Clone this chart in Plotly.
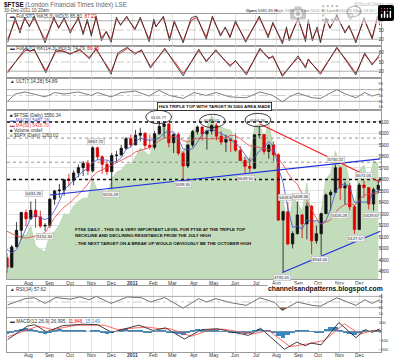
import plotly.graph_objects as go
import pandas as pd

W, H = 400, 359
X0, X1 = 7, 381

# ---------------- data ----------------
week_dates = pd.date_range("2010-06-30", "2011-12-28", freq="W-WED")

opens = [4920,4838,5014,5158,5313,5258,5332,5275,5195,5201,5428,5501,5508,5598,5592,5657,5703,5741,5675,5875,5797,5732,5668,5808,5812,5871,5955,
         5900,5985,6002,5896,5881,5997,6062,6083,5919,5990,5829,5718,5900,6016,6056,5996,6022,6069,5976,5925,5948,5938,5855,5765,5714,5697,
         5989,5990,5844,5900,5815,5247,5320,5040,5130,5292,5214,5368,5067,5128,5303,5466,5488,5702,5527,5545,5362,5165,5552,5529,5387,5512]
highs = [4960,5030,5230,5320,5340,5410,5430,5330,5220,5440,5510,5560,5600,5650,5680,5730,5760,5770,5890,5885,5810,5760,5830,5850,5900,5970,5990,
         6030,6050,6010,5990,6020,6105,6100,6090,6000,6010,5850,5910,6030,6070,6060,6030,6080,6091,6020,5990,5960,6000,5890,5800,5790,5990,
         6055,5990,5910,5930,5830,5330,5400,5150,5410,5300,5400,5380,5200,5310,5480,5510,5730,5710,5580,5570,5380,5570,5590,5530,5530,5600]
lows = [4790,4830,5010,5080,5190,5250,5180,5180,5151,5180,5380,5440,5460,5540,5550,5620,5630,5640,5660,5770,5650,5640,5515,5760,5820,5860,5880,
        5900,5930,5860,5860,5860,5990,5970,5880,5830,5810,5599,5700,5880,5990,5940,5860,5990,5940,5900,5840,5840,5840,5760,5649,5660,5690,
        5960,5820,5780,5760,5240,4791,5030,5000,5120,5090,5080,4950,5040,4944,5300,5330,5480,5420,5380,5330,5127,5160,5440,5340,5330,5480]
closes = [4838,5014,5158,5313,5258,5332,5275,5195,5201,5428,5501,5508,5598,5592,5657,5703,5741,5675,5875,5797,5732,5668,5808,5812,5871,5955,5900,
          5985,6002,5896,5881,5997,6062,6083,5919,5990,5829,5718,5900,6016,6056,5996,6022,6069,5976,5925,5948,5938,5855,5765,5714,5697,5989,
          5990,5844,5900,5815,5247,5320,5040,5130,5292,5214,5368,5067,5128,5303,5466,5488,5702,5527,5545,5362,5165,5552,5529,5387,5512,5550]
ma20 = [4990,4963,4990,5081,5186,5265,5295,5265,5251,5275,5331,5410,5509,5550,5589,5637,5673,5694,5748,5772,5770,5768,5751,5755,5790,5861,5884,
        5928,5960,5946,5941,5944,5959,6006,6015,6013,5955,5864,5859,5866,5922,5992,6022,6036,6016,5998,5979,5947,5916,5876,5818,5758,5791,
        5847,5880,5931,5887,5701,5574,5355,5184,5195,5169,5251,5235,5244,5216,5241,5346,5490,5546,5565,5534,5400,5406,5402,5408,5495,5494]
ma50 = [5150,5130,5110,5100,5090,5100,5110,5120,5140,5201,5268,5317,5361,5389,5429,5466,5512,5560,5628,5665,5688,5704,5725,5747,5768,5793,5809,
        5840,5853,5863,5878,5911,5936,5963,5968,5972,5964,5938,5928,5940,5957,5957,5953,5952,5957,5951,5963,5985,5980,5955,5921,5891,5888,
        5880,5867,5864,5851,5782,5728,5656,5597,5557,5479,5417,5339,5262,5211,5233,5250,5316,5356,5381,5396,5375,5424,5464,5472,5477,5483]
spx = [1022,1078,1065,1102,1102,1122,1079,1071,1065,1105,1110,1125,1149,1146,1166,1176,1183,1183,1225,1199,1199,1189,1225,1240,1244,1257,1258,
       1272,1293,1283,1276,1310,1329,1343,1320,1321,1304,1279,1313,1332,1328,1320,1337,1364,1340,1338,1333,1331,1300,1271,1271,1268,1339,
       1344,1316,1345,1292,1199,1178,1123,1177,1174,1154,1216,1136,1131,1155,1224,1238,1285,1253,1263,1216,1159,1244,1255,1219,1265,1258]
macd_hist = [-25,-10,10,30,35,25,10,-20,-30,-10,15,25,20,10,10,15,10,0,10,5,-15,-25,-20,0,15,25,20,
             20,15,-10,-20,-5,10,10,-10,-20,-30,-40,-20,10,30,15,5,10,5,-5,-5,-10,-10,-20,-25,-15,15,30,20,10,-10,
             -50,-70,-45,-10,15,5,10,-5,-20,-15,30,45,50,20,-10,-30,-45,-20,20,-5,5,15]

sto1_dates = ["2010-07-01","2010-07-12","2010-07-19","2010-07-26","2010-08-02","2010-08-09","2010-08-25","2010-09-07","2010-09-14","2010-09-22",
              "2010-10-01","2010-10-13","2010-10-20","2010-10-26","2010-11-01","2010-11-08","2010-11-16","2010-11-23","2010-11-30","2010-12-08",
              "2010-12-14","2010-12-23","2011-01-04","2011-01-12","2011-01-25","2011-02-01","2011-02-04","2011-02-15","2011-02-24","2011-03-03",
              "2011-03-16","2011-03-28","2011-04-05","2011-04-19","2011-04-28","2011-05-10","2011-05-17","2011-05-24","2011-06-01","2011-06-16",
              "2011-07-06","2011-07-19","2011-07-26","2011-08-09","2011-08-15","2011-08-19","2011-09-01","2011-09-12","2011-09-16","2011-09-22",
              "2011-09-29","2011-10-04","2011-10-12","2011-10-18","2011-10-28","2011-11-09","2011-11-15","2011-11-25","2011-12-07","2011-12-19",
              "2011-12-27","2011-12-30"]
sto1_k = [10,90,40,92,60,95,8,92,55,90,40,92,35,85,30,95,15,45,10,92,65,95,50,92,12,85,60,95,15,80,
          8,90,95,20,95,30,60,25,80,10,95,25,75,5,60,15,90,12,85,15,60,8,90,55,98,40,65,8,90,20,97,66]
sto1_d = [20,80,50,85,65,88,18,85,60,84,48,85,42,78,38,88,24,45,18,85,68,90,55,86,20,78,62,90,24,74,
          15,82,90,28,90,36,56,30,74,16,90,32,70,12,52,22,84,20,78,22,52,15,82,58,94,45,60,15,84,26,88,87]

sto2_dates = ["2010-07-01","2010-07-27","2010-08-03","2010-08-09","2010-08-26","2010-09-10","2010-09-20","2010-10-01","2010-10-15","2010-10-29",
              "2010-11-08","2010-11-30","2010-12-10","2010-12-24","2011-01-04","2011-01-14","2011-01-27","2011-02-17","2011-03-02","2011-03-16",
              "2011-04-08","2011-04-19","2011-05-03","2011-05-24","2011-06-01","2011-06-17","2011-07-07","2011-07-20","2011-07-26","2011-08-09",
              "2011-09-01","2011-09-12","2011-09-16","2011-10-04","2011-10-28","2011-11-10","2011-11-25","2011-12-08","2011-12-19","2011-12-30"]
sto2_k = [15,95,85,92,15,90,85,75,92,60,95,10,80,98,75,90,30,95,50,5,92,50,90,35,55,8,95,60,70,3,70,30,60,10,98,55,8,80,40,75]
sto2_d = [20,88,86,88,22,84,86,78,88,65,90,18,74,94,80,86,36,90,55,12,86,55,85,40,52,14,90,64,66,8,64,36,56,16,94,60,14,74,45,66]

ult_dates = ["2010-07-01","2010-07-12","2010-07-27","2010-08-10","2010-08-25","2010-09-08","2010-09-22","2010-10-13","2010-11-01","2010-11-10",
             "2010-11-30","2010-12-15","2011-01-05","2011-01-25","2011-02-08","2011-02-24","2011-03-16","2011-04-01","2011-04-19","2011-05-03",
             "2011-05-24","2011-06-17","2011-07-07","2011-07-26","2011-08-09","2011-08-19","2011-09-01","2011-09-22","2011-10-04","2011-10-28",
             "2011-11-10","2011-11-25","2011-12-08","2011-12-19","2011-12-30"]
ult_vals = [30,55,62,55,45,60,55,62,50,60,45,60,65,48,68,50,40,60,50,60,45,42,62,50,28,45,58,42,40,70,55,42,60,48,55]

rsi_dates = ["2010-07-01","2010-07-27","2010-08-09","2010-08-25","2010-09-10","2010-10-01","2010-10-15","2010-10-29","2010-11-08","2010-11-30",
             "2010-12-24","2011-01-14","2011-01-27","2011-02-17","2011-03-16","2011-04-08","2011-04-19","2011-05-03","2011-05-24","2011-06-17",
             "2011-07-07","2011-07-29","2011-08-09","2011-08-31","2011-09-22","2011-10-04","2011-10-28","2011-11-25","2011-12-08","2011-12-19",
             "2011-12-30"]
rsi_vals = [40,62,65,45,66,60,68,58,70,45,68,65,50,66,28,62,50,62,48,38,65,48,20,50,38,35,65,38,58,45,58]
rsi_low_dates = ["2011-08-04", "2011-08-09", "2011-08-15"]
rsi_low_vals = [30, 20, 30]

macd_dates = ["2010-07-01","2010-07-30","2010-08-10","2010-08-27","2010-09-20","2010-10-20","2010-11-10","2010-12-01","2011-01-10","2011-01-31",
              "2011-02-18","2011-03-18","2011-04-12","2011-05-05","2011-06-20","2011-07-08","2011-08-12","2011-08-30","2011-09-12","2011-09-20",
              "2011-10-05","2011-10-31","2011-11-25","2011-12-09","2011-12-19","2011-12-30"]
macd_vals = [-90,60,75,-5,65,80,75,-10,70,10,40,-85,20,30,-45,35,-200,-120,-160,-130,-150,100,-70,20,-10,27]
signal_dates = ["2010-07-01","2010-08-15","2010-09-05","2010-10-10","2010-11-20","2010-12-10","2011-01-20","2011-02-10","2011-02-25","2011-03-28",
                "2011-04-25","2011-05-15","2011-06-25","2011-07-20","2011-08-20","2011-09-15","2011-10-10","2011-11-08","2011-12-01","2011-12-20",
                "2011-12-30"]
signal_vals = [-60,60,20,70,70,20,50,30,30,-55,20,25,-30,10,-170,-140,-100,85,-30,10,12]

# trend lines / levels (date, price)
level_heavy = [6100, 5600]
level_light = [5960, 5750]
neckline = (["2010-09-01", "2011-12-31"], [5465, 5779])
red_resist = (["2011-07-07", "2011-12-31"], [6083, 5576])
low_support = (["2011-08-09", "2011-12-31"], [4791, 5150])
peak_circles = [("2011-02-08", 6143, "6105.77"), ("2011-04-28", 6109, "6089.47"), ("2011-07-04", 6117, "6054.26")]
price_labels = [("2010-08-09", 5431, "5431.26", 1), ("2010-08-25", 5151, "5151.34", -1), ("2010-11-08", 5890, "5867.72", 1),
                ("2010-11-30", 5515, "5515.29", -1), ("2011-03-16", 5599, "5599.30", -1), ("2011-06-16", 5649, "5649.50", -1),
                ("2011-08-09", 4791, "4791.01", -1), ("2011-08-16", 5400, "5409.67", 1), ("2011-09-05", 5410, "5408.36", 1),
                ("2011-10-04", 4944, "4944.44", -1), ("2011-10-27", 5730, "5730.22", 1), ("2011-11-01", 5330, "5326.28", -1),
                ("2011-11-25", 5127, "5127.57", -1), ("2011-12-07", 5590, "5571.05", 1), ("2011-12-19", 5330, "5329.67", -1)]

month_grid = pd.date_range("2010-07-01", "2011-12-01", freq="MS")
month_text = ["", "Aug", "Sep", "Oct", "Nov", "Dec", "<b>2011</b>", "Feb", "Mar", "Apr", "May", "Jun", "Jul", "Aug", "Sep", "Oct", "Nov", "Dec"]

# ---------------- helpers ----------------
def P(pix):
    return 1 - pix / H

XDOM = [X0 / W, X1 / W]
XR = ["2010-06-30", "2012-01-01"]
FONT = "Liberation Sans, Arial, sans-serif"
GRID = "#e2e2e2"
BORDER = "#9a9a9a"

panels = {  # name: (top px, bottom px)
    "sto1": (14, 46), "sto2": (46, 78), "ult": (78, 110), "main": (110, 279), "rsi": (286, 317), "macd": (318, 352)}

fig = go.Figure()

# STO 1
fig.add_trace(go.Scatter(x=sto1_dates, y=sto1_d, mode="lines", line=dict(color="#e01010", width=0.9), xaxis="x", yaxis="y"))
fig.add_trace(go.Scatter(x=sto1_dates, y=sto1_k, mode="lines", line=dict(color="#222", width=0.8), xaxis="x", yaxis="y"))
# STO 2
fig.add_trace(go.Scatter(x=sto2_dates, y=sto2_d, mode="lines", line=dict(color="#e01010", width=0.9), xaxis="x2", yaxis="y2"))
fig.add_trace(go.Scatter(x=sto2_dates, y=sto2_k, mode="lines", line=dict(color="#222", width=0.8), xaxis="x2", yaxis="y2"))
# ULT
fig.add_trace(go.Scatter(x=ult_dates, y=ult_vals, mode="lines", line=dict(color="#444", width=0.7), xaxis="x3", yaxis="y3"))
# Main: SPX area (base axis y4), price (overlay y5)
fig.add_trace(go.Scatter(x=week_dates, y=spx, mode="lines", line=dict(color="#a9cc9f", width=0.6),
                         fill="tozeroy", fillcolor="#c3dcbb", xaxis="x4", yaxis="y4"))
fig.add_trace(go.Scatter(x=week_dates, y=ma50, mode="lines", line=dict(color="#e84040", width=0.8), xaxis="x4", yaxis="y5"))
fig.add_trace(go.Scatter(x=week_dates, y=ma20, mode="lines", line=dict(color="#4050c8", width=0.8), xaxis="x4", yaxis="y5"))
fig.add_trace(go.Candlestick(x=week_dates, open=opens, high=highs, low=lows, close=closes,
                             increasing=dict(line=dict(color="#111", width=0.8), fillcolor="#111"),
                             decreasing=dict(line=dict(color="#e00000", width=0.8), fillcolor="#e00000"),
                             whiskerwidth=0, xaxis="x4", yaxis="y5"))
# RSI
fig.add_trace(go.Scatter(x=rsi_low_dates, y=rsi_low_vals, mode="lines", fill="toself", fillcolor="#9b5a3c",
                         line=dict(color="#9b5a3c", width=0.5), xaxis="x5", yaxis="y6"))
fig.add_trace(go.Scatter(x=rsi_dates, y=rsi_vals, mode="lines", line=dict(color="#333", width=0.7), xaxis="x5", yaxis="y6"))
# MACD
fig.add_trace(go.Bar(x=week_dates, y=macd_hist, marker=dict(color="#3a86c0", line=dict(width=0)), xaxis="x6", yaxis="y7"))
fig.add_trace(go.Scatter(x=signal_dates, y=signal_vals, mode="lines", line=dict(color="#ff4040", width=0.8), xaxis="x6", yaxis="y7"))
fig.add_trace(go.Scatter(x=macd_dates, y=macd_vals, mode="lines", line=dict(color="#111", width=0.8), xaxis="x6", yaxis="y7"))

# ---------------- axes ----------------
def xax(anchor):
    d = dict(domain=XDOM, anchor=anchor, type="date", range=XR, tickvals=list(month_grid), ticktext=month_text,
             showticklabels=False, showgrid=True, gridcolor=GRID, gridwidth=0.6, ticks="", showline=True, mirror=True,
             linecolor=BORDER, linewidth=0.7, rangeslider=dict(visible=False), zeroline=False, fixedrange=True)
    if anchor != "y":
        d["matches"] = "x"
    return d

def yax(name, rng, tickvals, grid=True, anchor="x", size=4.5):
    top, bot = panels[name]
    return dict(domain=[P(bot), P(top)], anchor=anchor, range=rng, side="right", tickvals=tickvals,
                showgrid=grid, gridcolor=GRID, gridwidth=0.6, ticks="", showline=True, mirror=True,
                linecolor=BORDER, linewidth=0.7, zeroline=False, tickfont=dict(size=size, color="#333", family=FONT),
                ticklabelstandoff=-4, fixedrange=True)

layout = dict(width=W, height=H, margin=dict(l=0, r=0, t=0, b=0), paper_bgcolor="white", plot_bgcolor="white",
              showlegend=False, bargap=0, font=dict(family=FONT))
layout["xaxis"] = xax("y")
layout["xaxis2"] = xax("y2")
layout["xaxis3"] = xax("y3")
layout["xaxis4"] = xax("y4")
layout["xaxis5"] = xax("y6")
layout["xaxis6"] = xax("y7")
layout["yaxis"] = yax("sto1", [-2, 102], [20, 50, 80], grid=False)
layout["yaxis2"] = yax("sto2", [-2, 102], [20, 50, 80], grid=False, anchor="x2")
layout["yaxis3"] = yax("ult", [0, 110], [10, 30, 50, 70, 90], grid=False, anchor="x3", size=3.8)
layout["yaxis4"] = yax("main", [1007, 1375], [], grid=False, anchor="x4")
layout["yaxis4"]["showticklabels"] = False
layout["yaxis5"] = yax("main", [4735, 6204], list(range(4800, 6200, 100)), grid=True, anchor="x4")
layout["yaxis5"]["overlaying"] = "y4"
layout["yaxis6"] = yax("rsi", [-3.5, 107], [10, 30, 50, 70, 90], grid=False, anchor="x5", size=3.8)
layout["yaxis7"] = yax("macd", [-230, 150], [-200, -100, 0, 100], grid=False, anchor="x6", size=4.2)
fig.update_layout(**layout)

# ---------------- shapes ----------------
shapes = []
def hline(xref, yref, val, color, width, dash):
    shapes.append(dict(type="line", xref=xref + " domain", yref=yref, x0=0, x1=1, y0=val, y1=val,
                       line=dict(color=color, width=width, dash=dash), layer="above"))

for v in (80, 20):
    hline("x", "y", v, "#8a8a8a", 0.7, "solid")
    hline("x2", "y2", v, "#8a8a8a", 0.7, "solid")
hline("x", "y", 50, "#aaaaaa", 0.6, "dashdot")
hline("x2", "y2", 50, "#aaaaaa", 0.6, "dashdot")
for v in (70, 30):
    hline("x3", "y3", v, "#8a8a8a", 0.7, "solid")
    hline("x5", "y6", v, "#8a8a8a", 0.7, "solid")
hline("x3", "y3", 50, "#aaaaaa", 0.6, "dashdot")
hline("x5", "y6", 50, "#aaaaaa", 0.6, "dashdot")
hline("x6", "y7", 0, "#999999", 0.6, "solid")
for v in level_heavy:
    hline("x4", "y5", v, "#111111", 1.6, "dot")
for v in level_light:
    hline("x4", "y5", v, "#777777", 0.8, "dot")

for (xs, ys), col in ((neckline, "#1f2fe0"), (red_resist, "#ee2222"), (low_support, "#1f2fe0")):
    shapes.append(dict(type="line", xref="x4", yref="y5", x0=xs[0], x1=xs[1], y0=ys[0], y1=ys[1],
                       line=dict(color=col, width=1.2), layer="above"))

for d, p, _ in peak_circles:
    c = pd.Timestamp(d)
    shapes.append(dict(type="circle", xref="x4", yref="y5", x0=c - pd.Timedelta(days=19), x1=c + pd.Timedelta(days=19),
                       y0=p - 58, y1=p + 58, line=dict(color="#111", width=0.8), layer="above"))
fig.update_layout(shapes=shapes)

# ---------------- annotations ----------------
ann = []
def txt(x, y, text, size=5, color="#111", xanchor="left", **kw):
    ann.append(dict(x=x / W, y=P(y), xref="paper", yref="paper", text=text, showarrow=False, xanchor=xanchor,
                    yanchor="middle", font=dict(size=size, color=color, family=FONT), **kw))

# month labels under the price panel and under the MACD panel
for m, t in zip(month_grid, month_text):
    if t:
        for xr, ypx in (("x4", 282.5), ("x6", 355.3)):
            ann.append(dict(x=m, y=P(ypx), xref=xr, yref="paper", text=t, showarrow=False, xanchor="center",
                            yanchor="middle", borderpad=0, font=dict(size=5, color="#333", family=FONT)))

txt(2, 4.5, "<b>$FTSE</b> <span style='color:#666'>(London Financial Times Index) LSE</span>", size=6.3)
txt(2, 10.5, "30-Dec-2011 10:20am", size=4.6, color="#444")
txt(396, 4.5, "@StockCharts.com", size=4.6, color="#666", xanchor="right")
txt(396, 10.5, "<b>Open</b> 5581.85 <b>High</b> 5588.38 <b>Low</b> 5541.80 <b>Last</b> 5550.36 <b>Chg</b> -18.62 (-0.33%) "
    "<span style='color:#e00000'>▾</span>", size=4.2, color="#333", xanchor="right")
txt(8, 17, "<b>▬</b> Full STO %K(5,3) %D(3) 65.80, <span style='color:#e00000'>87.22</span>", size=4.8, color="#333")
txt(8, 49, "<b>▬</b> Full STO %K(14,3) %D(3) 74.79, <span style='color:#e00000'>66.45</span>", size=4.8, color="#333")
txt(8, 81, "▲ ULT(7,14,28) 54.89", size=4.8, color="#333")
txt(8, 115.5, "<b>■</b> $FTSE (Daily) 5550.34", size=4.6, color="#333")
txt(8, 120.5, "<span style='color:#4050c8'>▬ MA(20) 5487.18</span>", size=4.6)
txt(8, 125.5, "<span style='color:#e84040'>▬ MA(50) 5426.70</span>", size=4.6)
txt(8, 130.5, "<b>■</b> Volume undef", size=4.6, color="#333")
txt(8, 135.5, "<span style='color:#7fb874'>■</span> $SPX (Daily) 1263.02", size=4.6, color="#333")
txt(8, 289.5, "▲ RSI(14) 57.62", size=4.8, color="#333")
txt(8, 321, "<b>▬</b> MACD(12,26,9) 26.995, <span style='color:#e00000'>11.846</span>, "
    "<span style='color:#3a86c0'>15.149</span>", size=4.8, color="#333")
txt(214, 106, "<b>H&amp;S TRIPLE TOP WITH TARGET IN 5000 AREA MADE</b>", size=4.4, xanchor="center",
    bgcolor="white", bordercolor="#111", borderwidth=0.8, borderpad=1)
txt(73, 229, "<b>FTSE DAILY - THIS IS A VERY IMPORTANT LEVEL FOR FTSE AT THE TRIPLE TOP</b>", size=4.4)
txt(73, 236, "<b>NECKLINE AND DECLINING RESISTANCE FROM THE JULY HIGH</b>", size=4.4)
txt(73, 243, "<b>- THE NEXT TARGET ON A BREAK UP WOULD OBVIOUSLY BE THE OCTOBER HIGH</b>", size=4.4)
txt(325, 289, "<b>channelsandpatterns.blogspot.com</b>", size=6.8, xanchor="center", bgcolor="white", borderpad=0)

for d, p, t in peak_circles:
    ann.append(dict(x=d, y=p, xref="x4", yref="y5", text=t, showarrow=False, font=dict(size=4.2, color="#333", family=FONT)))
for d, p, t, side in price_labels:
    ann.append(dict(x=d, y=p, xref="x4", yref="y5", text=t, showarrow=False, yshift=5 * side,
                    font=dict(size=4.2, color="#333", family=FONT), bgcolor="#f0f0f0", bordercolor="#b0b0b0",
                    borderwidth=0.5, borderpad=0.5))
fig.update_layout(annotations=ann)

# remove the page's default body margin so the 400x359 figure sits at the window origin
fig.write_html("out.html", post_script="document.body.style.margin='0px';document.body.style.overflow='hidden';")
